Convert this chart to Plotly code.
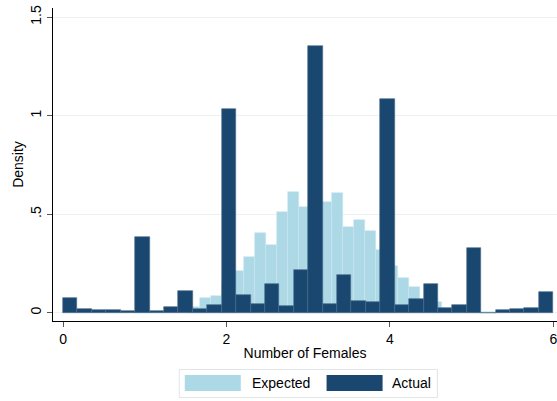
import plotly.graph_objects as go

# Actual: 34 bins from 0 to 6
actual_density = [0.073, 0.019, 0.014, 0.015, 0.009, 0.386, 0.010, 0.027, 0.109, 0.020,
                  0.039, 1.034, 0.088, 0.044, 0.146, 0.034, 0.217, 1.354, 0.046, 0.190,
                  0.061, 0.054, 1.083, 0.037, 0.068, 0.146, 0.022, 0.037, 0.327, 0.0,
                  0.014, 0.019, 0.022, 0.107]
actual_start = 0.0
actual_width = 6.0 / 34

# Expected: narrower bins starting at 1.545
expected_density = [0.027, 0.076, 0.085, 0.150, 0.213, 0.281, 0.405, 0.345, 0.511, 0.613,
                    0.537, 0.600, 0.564, 0.606, 0.437, 0.471, 0.415, 0.318, 0.239, 0.178,
                    0.132, 0.060, 0.053, 0.015, 0.010, 0.006, 0.004, 0.003]
expected_start = 1.545
expected_width = 0.1345

y_ticks = [0, 0.5, 1, 1.5]
y_tick_labels = ["0", ".5", "1", "1.5"]
x_ticks = [0, 2, 4, 6]
x_tick_labels = ["0", "2", "4", "6"]
legend_labels = ["Expected", "Actual"]

LIGHT = "#ADD8E6"
NAVY = "#1A476F"
FONT = "Liberation Sans, Arial, sans-serif"

exp_x = [expected_start + (i + 0.5) * expected_width for i in range(len(expected_density))]
act_x = [actual_start + (i + 0.5) * actual_width for i in range(len(actual_density))]

fig = go.Figure()
fig.add_trace(go.Bar(x=exp_x, y=expected_density, width=expected_width,
                     marker=dict(color=LIGHT, line=dict(color="#c9e6ee", width=0.6)),
                     name=legend_labels[0], showlegend=False))
fig.add_trace(go.Bar(x=act_x, y=actual_density, width=actual_width,
                     marker=dict(color=NAVY, line=dict(color="#47698a", width=0.6)),
                     name=legend_labels[1], showlegend=False))

# paper coordinate helpers (plot area: px 53.3..557 horizontally, 8.3..321 vertically)
L, R, T, B = 53.3, 557.0, 8.3, 321.0
def px(x):
    return (x - L) / (R - L)
def py(y):
    return (B - y) / (B - T)

shapes = [
    dict(type="rect", xref="paper", yref="paper", x0=px(179.5), x1=px(437.5), y0=py(369.5), y1=py(397.5),
         line=dict(color="#dfe5e8", width=1), fillcolor="white", layer="above"),
    dict(type="rect", xref="paper", yref="paper", x0=px(185), x1=px(241), y0=py(375), y1=py(391),
         line=dict(width=0), fillcolor=LIGHT, layer="above"),
    dict(type="rect", xref="paper", yref="paper", x0=px(326.7), x1=px(382.7), y0=py(375), y1=py(391),
         line=dict(width=0), fillcolor=NAVY, layer="above"),
]
annotations = [
    dict(text=legend_labels[0], xref="paper", yref="paper", x=px(250), y=py(383), xanchor="left",
         yanchor="middle", showarrow=False, font=dict(family=FONT, size=14, color="black")),
    dict(text=legend_labels[1], xref="paper", yref="paper", x=px(390.5), y=py(383), xanchor="left",
         yanchor="middle", showarrow=False, font=dict(family=FONT, size=14, color="black")),
]

fig.update_layout(
    width=557, height=401,
    margin=dict(l=53.3, r=0, t=8.3, b=80),
    paper_bgcolor="white", plot_bgcolor="white",
    barmode="overlay", bargap=0,
    font=dict(family=FONT, size=14, color="black"),
    shapes=shapes, annotations=annotations,
    xaxis=dict(range=[-0.123, 6.045], tickvals=x_ticks, ticktext=x_tick_labels,
               ticklabeloverflow="allow", automargin=False,
               showline=True, linecolor="black", linewidth=1.2,
               ticks="outside", ticklen=5, tickcolor="#555", tickwidth=1.2,
               showgrid=False, zeroline=False,
               title=dict(text="Number of Females", standoff=2,
                          font=dict(family=FONT, size=14, color="black"))),
    yaxis=dict(range=[-0.042, 1.546], tickvals=y_ticks, ticktext=y_tick_labels,
               tickangle=-90, automargin=False,
               showline=True, linecolor="black", linewidth=1.2,
               ticks="outside", ticklen=5, tickcolor="#555", tickwidth=1.2,
               showgrid=True, gridcolor="#eaf2f3", gridwidth=1, zeroline=False,
               title=dict(text="Density", standoff=1,
                          font=dict(family=FONT, size=14, color="black"))),
)

fig.write_html("out.html")
